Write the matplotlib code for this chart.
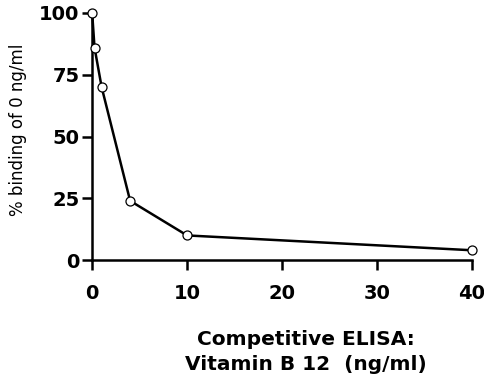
import matplotlib
matplotlib.use("Agg")
from matplotlib import pyplot as plt

conc = [0, 0.25, 1, 4, 10, 40]
binding = [100, 86, 70, 24, 10, 4]
xticks = [0, 10, 20, 30, 40]
yticks = [0, 25, 50, 75, 100]

plt.rcParams['font.family'] = ['DejaVu Sans']

fig = plt.figure(figsize=(4.85, 3.82), dpi=100)
ax = fig.add_axes([0.19, 0.319, 0.783, 0.647])

ax.plot(conc, binding, color='black', lw=1.8, marker='o', ms=6.5,
        mfc='white', mec='black', mew=0.9, clip_on=False, zorder=3)

ax.set_xlim(0, 40)
ax.set_ylim(0, 100)
ax.set_xticks(xticks)
ax.set_yticks(yticks)
ax.spines['top'].set_visible(False)
ax.spines['right'].set_visible(False)
for s in ['left', 'bottom']:
    ax.spines[s].set_linewidth(1.8)
ax.tick_params(width=1.8, length=7, labelsize=14, direction='out')
ax.tick_params(axis='x', pad=10)
ax.tick_params(axis='y', pad=2)
for lab in ax.get_xticklabels() + ax.get_yticklabels():
    lab.set_fontweight('bold')

fig.text(0.037, 0.66, '% binding of 0 ng/ml', rotation=90,
         ha='center', va='center', fontsize=12)
fig.text(0.63, 0.078, 'Competitive ELISA:\nVitamin B 12  (ng/ml)',
         ha='center', va='center', fontsize=14.5, fontweight='bold',
         linespacing=1.4)

fig.savefig('out.png', dpi=100)
